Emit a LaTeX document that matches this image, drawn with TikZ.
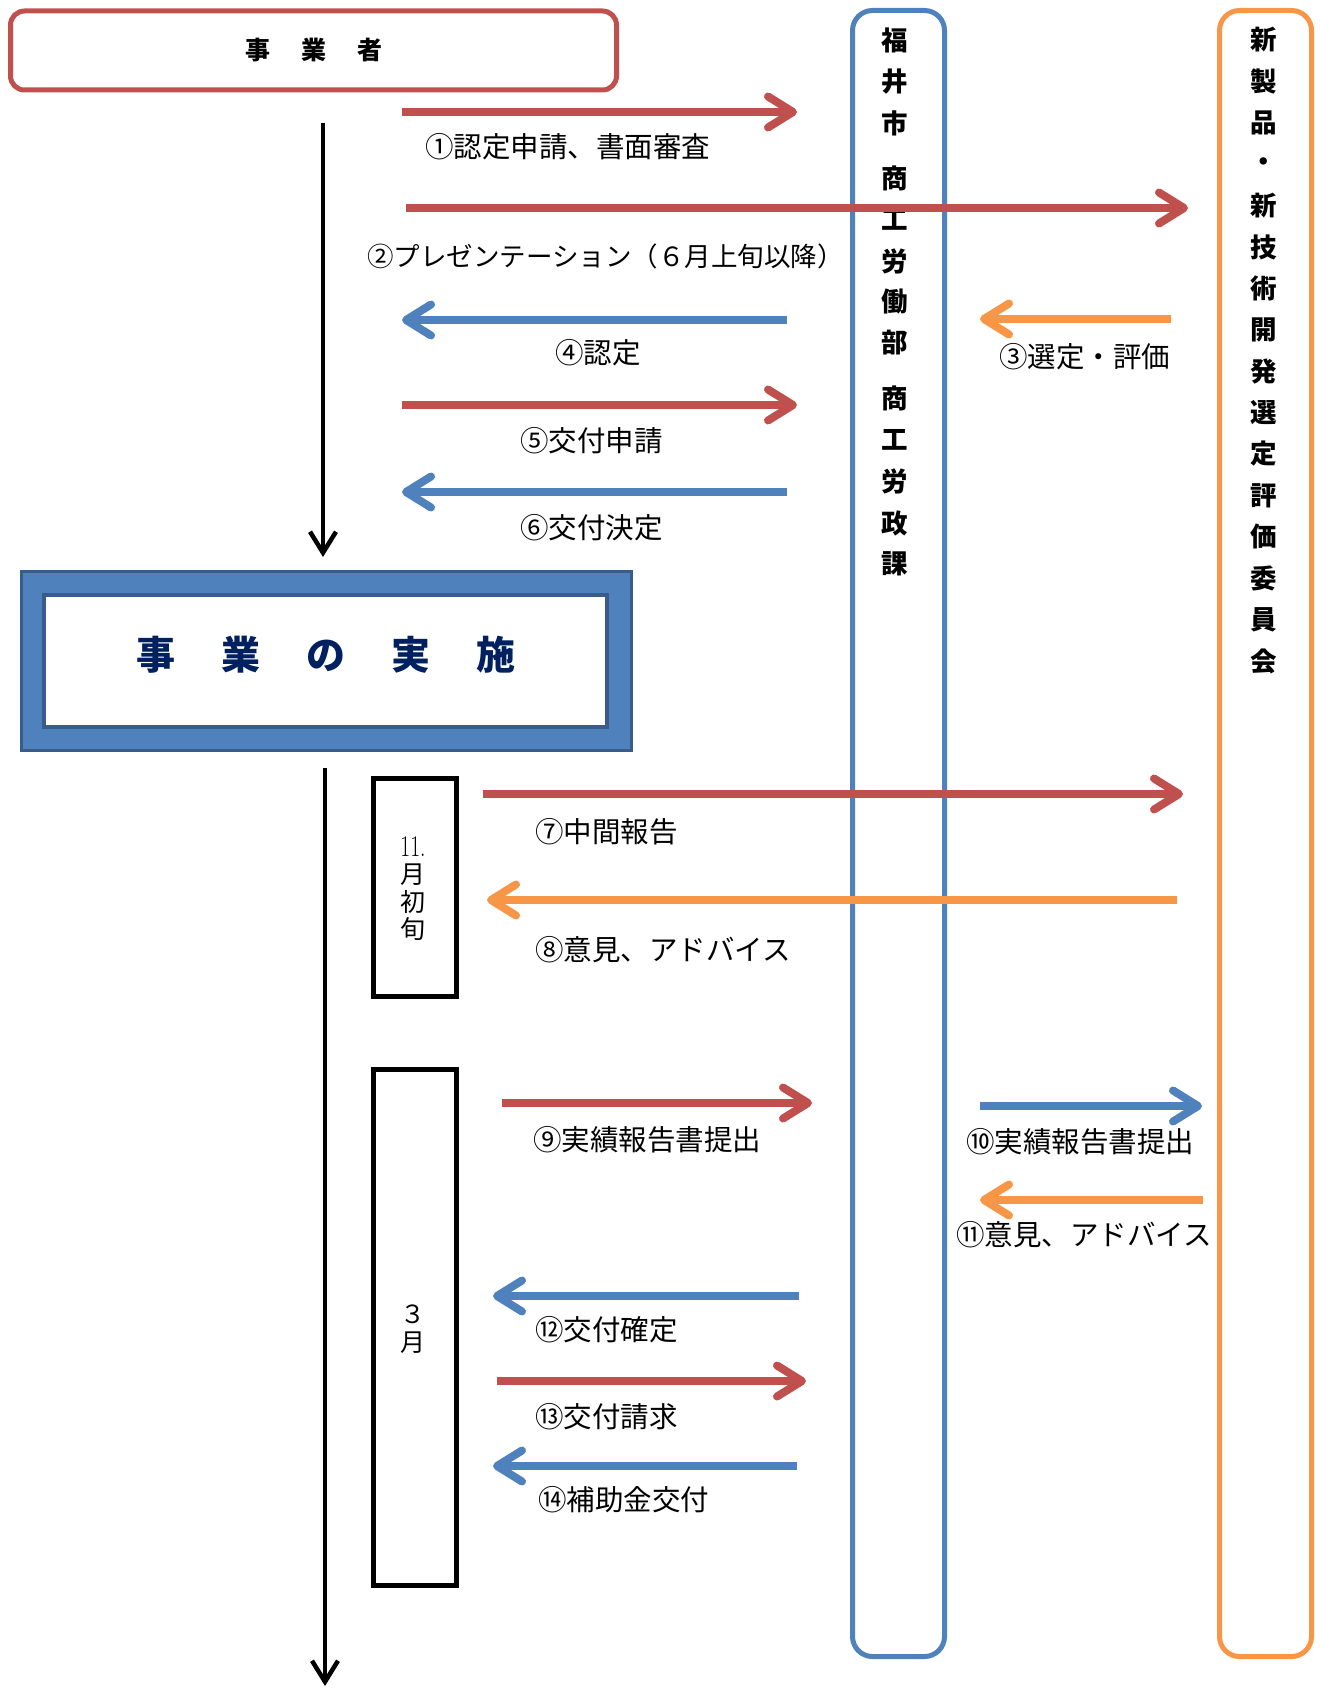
\documentclass[tikz,border=0pt]{standalone}
\usepackage{fontspec}
\usetikzlibrary{arrows.meta}
\newfontfamily\jp{Noto Sans CJK JP}
\definecolor{cred}{HTML}{C0504D}
\definecolor{cblue}{HTML}{4F81BD}
\definecolor{corange}{HTML}{F79646}
\definecolor{cdark}{HTML}{385D8A}
\definecolor{cnavy}{HTML}{002060}
\begin{document}
\begin{tikzpicture}[x=1pt,y=-1pt,
  lane/.style={line width=5pt, rounded corners=20pt, minimum width=92pt, minimum height=1646pt, inner sep=0pt},
  lanetext/.style={inner sep=0pt, font=\jp\bfseries\fontsize{26.5}{30}\selectfont},
  monthbox/.style={draw=black, line width=5pt, minimum width=83pt, inner sep=0pt},
  monthtext/.style={inner sep=0pt, font=\jp\fontsize{25}{30}\selectfont},
  lbl/.style={anchor=west, inner sep=0pt, font=\jp\fontsize{28.5}{32}\selectfont},
  flow/.style={line width=8pt, -{Straight Barb[length=25pt, width=31pt, round]}},
  redflow/.style={flow, draw=cred},
  blueflow/.style={flow, draw=cblue},
  orangeflow/.style={flow, draw=corange},
  timeline/.style={draw=black, line width=4.5pt, -{Straight Barb[length=21pt, width=26pt]}}
]
\useasboundingbox (0,0) rectangle (1319,1688);

% actor boxes
\node[draw=cred, line width=5pt, rounded corners=14pt, minimum width=606pt, minimum height=79pt, inner sep=0pt,
      font=\jp\bfseries\fontsize{25}{30}\selectfont] (biz) at (313.5,50.5) {事\kern31pt 業\kern31pt 者};

\node[lane, draw=cblue] (city) at (898.5,833.5) {};
\node[lane, draw=corange] (comm) at (1265.5,833.5) {};

\foreach \ch/\yy [count=\i] in {福/40,井/81.5,市/123,商/178,工/219.5,労/261,働/302,部/343,商/398,工/440,労/481,政/523,課/564}
  \node[lanetext] (city\i) at (895,\yy) {\ch};
\foreach \ch [count=\i from 0] in {新,製,品,・,新,技,術,開,発,選,定,評,価,委,員,会}
  \node[lanetext] (comm\i) at (1264,{40+41.4*\i}) {\ch};

% implementation box
\node[draw=cdark, fill=cblue, line width=3pt, minimum width=610pt, minimum height=179pt, inner sep=0pt] (impl) at (326,661) {};
\node[draw=cdark, fill=white, line width=4pt, minimum width=563pt, minimum height=132pt, inner sep=0pt] (implin) at (325.5,661) {};
\node[inner sep=0pt, text=cnavy, font=\jp\bfseries\fontsize{39}{44}\selectfont] (impltext) at (326,655)
  {事\kern46pt 業\kern46pt の\kern46pt 実\kern46pt 施};

% month boxes
\node[monthbox, minimum height=218pt] (box11) at (415,887.5) {};
\node[inner sep=0pt, font=\fontsize{30}{34}\selectfont] (t11) at (413,847) {\scalebox{0.72}[1]{11.}};
\node[monthtext] (t11a) at (413,875) {月};
\node[monthtext] (t11b) at (413,902) {初};
\node[monthtext] (t11c) at (413,929) {旬};

\node[monthbox, minimum height=516pt] (box3) at (415,1327.5) {};
\node[monthtext] (t3a) at (413,1314) {３};
\node[monthtext] (t3b) at (413,1343) {月};

% timeline arrows
\coordinate (v1s) at (323,123); \coordinate (v1e) at (323,557);
\coordinate (v2s) at (325,768); \coordinate (v2e) at (325,1686);
\draw[timeline] (v1s) -- (v1e);
\draw[timeline] (v2s) -- (v2e);

% flow arrows
\coordinate (a1s) at (402,112);   \coordinate (a1e) at (797,112);
\coordinate (a2s) at (406,208);   \coordinate (a2e) at (1188,208);
\coordinate (a3s) at (1171,319);  \coordinate (a3e) at (980,319);
\coordinate (a4s) at (787,320);   \coordinate (a4e) at (402,320);
\coordinate (a5s) at (402,405);   \coordinate (a5e) at (797,405);
\coordinate (a6s) at (787,492);   \coordinate (a6e) at (402,492);
\coordinate (a7s) at (483,794);   \coordinate (a7e) at (1183,794);
\coordinate (a8s) at (1177,900);  \coordinate (a8e) at (487,900);
\coordinate (a9s) at (502,1103);  \coordinate (a9e) at (812,1103);
\coordinate (a10s) at (980,1106); \coordinate (a10e) at (1202,1106);
\coordinate (a11s) at (1203,1200);\coordinate (a11e) at (980,1200);
\coordinate (a12s) at (799,1296); \coordinate (a12e) at (493,1296);
\coordinate (a13s) at (497,1381); \coordinate (a13e) at (806,1381);
\coordinate (a14s) at (797,1466); \coordinate (a14e) at (493,1466);

\draw[redflow] (a1s) -- (a1e);
\draw[redflow] (a2s) -- (a2e);
\draw[orangeflow] (a3s) -- (a3e);
\draw[blueflow] (a4s) -- (a4e);
\draw[redflow] (a5s) -- (a5e);
\draw[blueflow] (a6s) -- (a6e);
\draw[redflow] (a7s) -- (a7e);
\draw[orangeflow] (a8s) -- (a8e);
\draw[redflow] (a9s) -- (a9e);
\draw[blueflow] (a10s) -- (a10e);
\draw[orangeflow] (a11s) -- (a11e);
\draw[blueflow] (a12s) -- (a12e);
\draw[redflow] (a13s) -- (a13e);
\draw[blueflow] (a14s) -- (a14e);

% labels
\node[lbl] (l1) at (425,147) {①認定申請、書面審査};
\node[lbl, font=\jp\fontsize{26.5}{32}\selectfont] (l2) at (367,256) {②プレゼンテーション（６月上旬以降）};
\node[lbl] (l3) at (999,357) {③選定・評価};
\node[lbl] (l4) at (555,353) {④認定};
\node[lbl] (l5) at (520,441) {⑤交付申請};
\node[lbl] (l6) at (520,528) {⑥交付決定};
\node[lbl] (l7) at (535,832) {⑦中間報告};
\node[lbl] (l8) at (535,950) {⑧意見、アドバイス};
\node[lbl] (l9) at (533,1140) {⑨実績報告書提出};
\node[lbl] (l10) at (966,1142) {⑩実績報告書提出};
\node[lbl] (l11) at (956,1235) {⑪意見、アドバイス};
\node[lbl] (l12) at (535,1330) {⑫交付確定};
\node[lbl] (l13) at (535,1417) {⑬交付請求};
\node[lbl] (l14) at (538,1500) {⑭補助金交付};
\end{tikzpicture}
\end{document}
